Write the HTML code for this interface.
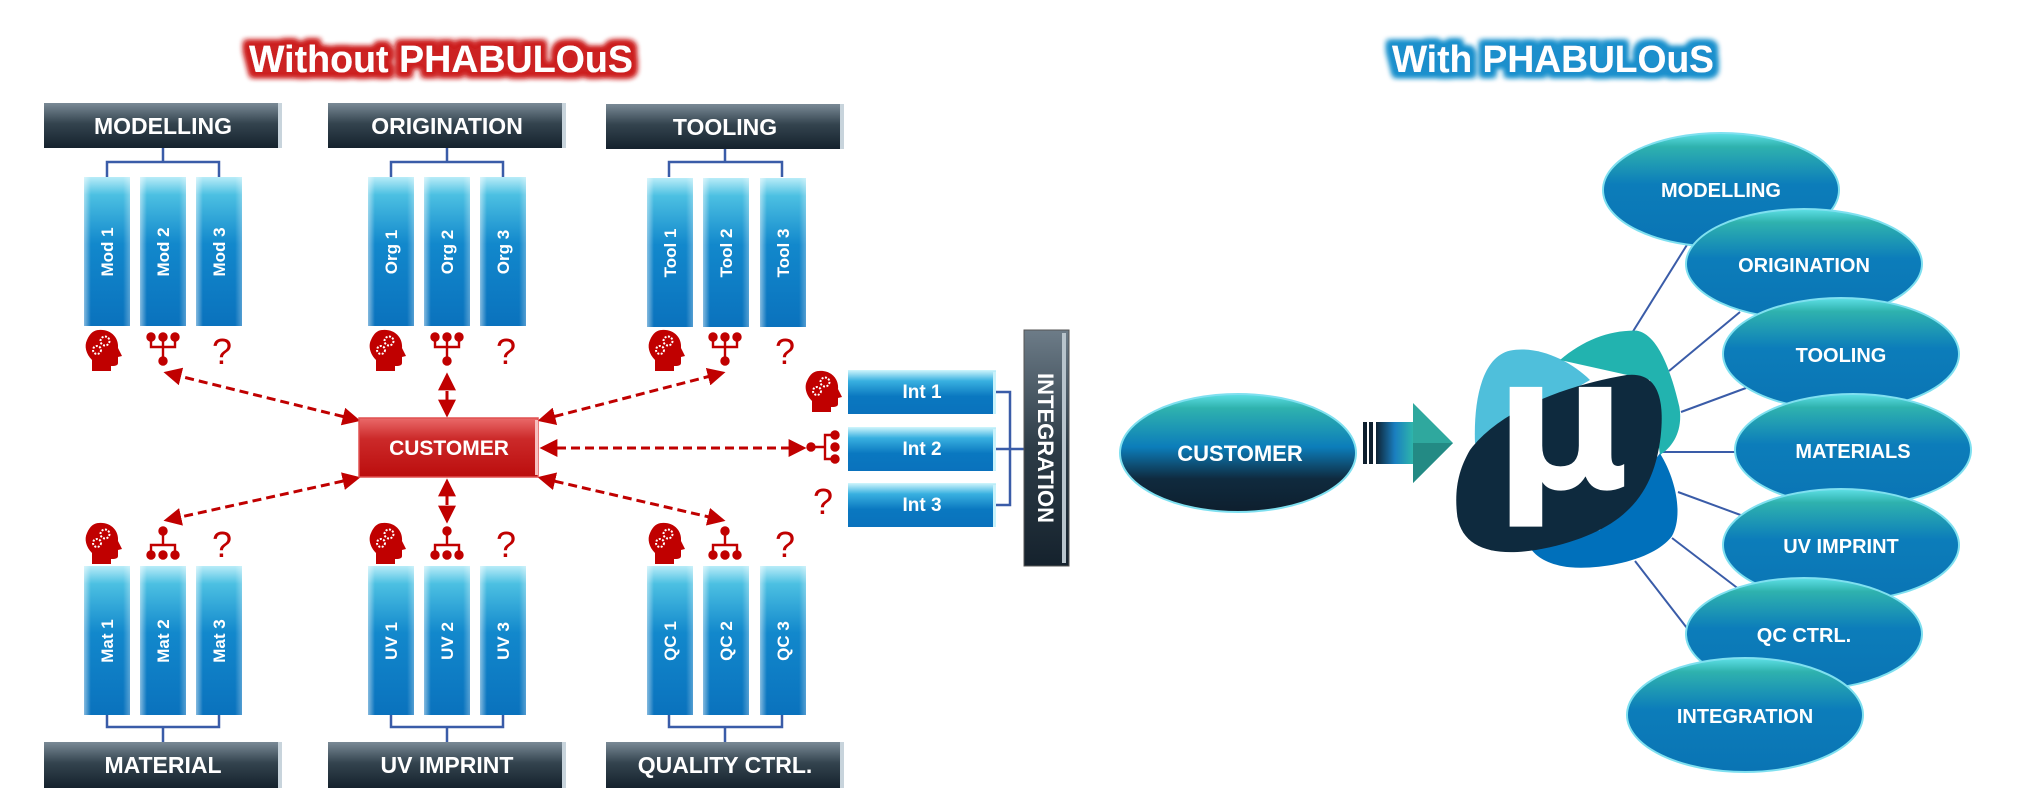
<!DOCTYPE html>
<html><head><meta charset="utf-8"><style>
html,body{margin:0;padding:0;background:#fff;width:2044px;height:788px;overflow:hidden}
svg{display:block}
text{font-family:"Liberation Sans",sans-serif;font-weight:bold}
</style></head><body>
<svg width="2044" height="788" viewBox="0 0 2044 788" xmlns="http://www.w3.org/2000/svg">
<defs>
<linearGradient id="col" x1="0" y1="0" x2="0" y2="1">
<stop offset="0" stop-color="#b8ecf8"/><stop offset="0.12" stop-color="#4cc0e2"/><stop offset="0.45" stop-color="#1288cc"/><stop offset="1" stop-color="#0a72bd"/></linearGradient>
<linearGradient id="colL" x1="0" y1="0" x2="1" y2="0">
<stop offset="0" stop-color="#ffffff" stop-opacity="0.5"/><stop offset="0.15" stop-color="#ffffff" stop-opacity="0"/><stop offset="0.85" stop-color="#ffffff" stop-opacity="0"/><stop offset="1" stop-color="#ffffff" stop-opacity="0.3"/></linearGradient>
<linearGradient id="intg" x1="0" y1="0" x2="0" y2="1">
<stop offset="0" stop-color="#d0f6fc"/><stop offset="0.25" stop-color="#38b0e0"/><stop offset="0.6" stop-color="#0a78c0"/><stop offset="1" stop-color="#0a72bd"/></linearGradient>
<linearGradient id="hdr" x1="0" y1="0" x2="0" y2="1">
<stop offset="0" stop-color="#7a8a96"/><stop offset="0.45" stop-color="#34444f"/><stop offset="1" stop-color="#15222d"/></linearGradient>
<linearGradient id="hdrV" x1="0" y1="0" x2="0" y2="1">
<stop offset="0" stop-color="#6d7c88"/><stop offset="0.5" stop-color="#2d3c47"/><stop offset="1" stop-color="#15222d"/></linearGradient>
<linearGradient id="red" x1="0" y1="0" x2="0" y2="1">
<stop offset="0" stop-color="#ea6a6a"/><stop offset="0.35" stop-color="#cc2a2a"/><stop offset="1" stop-color="#bb0d0d"/></linearGradient>
<linearGradient id="ell" x1="0" y1="0" x2="0" y2="1">
<stop offset="0" stop-color="#5ee0e6"/><stop offset="0.12" stop-color="#2fb2ae"/><stop offset="0.45" stop-color="#0c7dba"/><stop offset="1" stop-color="#0a74b4"/></linearGradient>
<linearGradient id="ellC" x1="0" y1="0" x2="0" y2="1">
<stop offset="0" stop-color="#5ee0e6"/><stop offset="0.12" stop-color="#2fb2ae"/><stop offset="0.45" stop-color="#0c7dba"/><stop offset="0.72" stop-color="#0f2a3e"/><stop offset="1" stop-color="#0e1f2e"/></linearGradient>
<linearGradient id="arr" x1="0" y1="0" x2="1" y2="0">
<stop offset="0" stop-color="#0e2233"/><stop offset="0.5" stop-color="#1a7fc0"/><stop offset="1" stop-color="#2fb8aa"/></linearGradient>
<marker id="ah" viewBox="0 0 10 10" refX="8" refY="5" markerWidth="6" markerHeight="6" orient="auto-start-reverse" markerUnits="strokeWidth">
<path d="M0,0 L10,5 L0,10 Z" fill="#c00000"/></marker>
<filter id="gr" x="-10%" y="-50%" width="120%" height="200%">
<feMorphology in="SourceAlpha" operator="dilate" radius="5" result="d"/>
<feGaussianBlur in="d" stdDeviation="3" result="b"/>
<feFlood flood-color="#cc2020"/><feComposite in2="b" operator="in" result="g"/>
<feMerge><feMergeNode in="g"/><feMergeNode in="g"/><feMergeNode in="SourceGraphic"/></feMerge></filter>
<filter id="gb" x="-10%" y="-50%" width="120%" height="200%">
<feMorphology in="SourceAlpha" operator="dilate" radius="5" result="d"/>
<feGaussianBlur in="d" stdDeviation="3" result="b"/>
<feFlood flood-color="#1b8fcc"/><feComposite in2="b" operator="in" result="g"/>
<feMerge><feMergeNode in="g"/><feMergeNode in="g"/><feMergeNode in="SourceGraphic"/></feMerge></filter>
<g id="head"><path d="M-4,-20 C8,-21 16,-12 15,-2 L19,6 L15,7 L15,13 C15,16 11,16 8,16 L8,21 L-11,21 L-11,10 C-17,4 -19,-4 -16,-10 C-13,-17 -9,-20 -4,-20 Z" fill="#c00000"/>
<circle cx="2" cy="-9" r="4.5" fill="none" stroke="#fff" stroke-width="2" stroke-dasharray="2 1.5"/><circle cx="-6" cy="0" r="4" fill="none" stroke="#fff" stroke-width="2" stroke-dasharray="2 1.5"/></g>
<g id="netD" fill="#c00000" stroke="#c00000" stroke-width="2.4"><circle cx="-12" cy="-12" r="3.5"/><circle cx="0" cy="-12" r="3.5"/><circle cx="12" cy="-12" r="3.5"/><path d="M-12,-12 V-2 H12 V-12 M0,-12 V10" fill="none"/><circle cx="0" cy="12" r="3.5"/></g>
<g id="netU" fill="#c00000" stroke="#c00000" stroke-width="2.4"><circle cx="0" cy="-12" r="3.5"/><path d="M0,-12 V2 M-12,12 V2 H12 V12" fill="none"/><circle cx="-12" cy="12" r="3.5"/><circle cx="0" cy="12" r="3.5"/><circle cx="12" cy="12" r="3.5"/></g>
</defs>

<text x="441" y="72" font-size="38" fill="#ffffff" text-anchor="middle" textLength="384" lengthAdjust="spacingAndGlyphs" filter="url(#gr)">Without PHABULOuS</text>
<text x="1553" y="72" font-size="38" fill="#ffffff" text-anchor="middle" textLength="322" lengthAdjust="spacingAndGlyphs" filter="url(#gb)">With PHABULOuS</text>

<g font-size="23" fill="#fff" text-anchor="middle">
<rect x="44" y="103" width="238" height="45" fill="url(#hdr)"/><rect x="278" y="103" width="4" height="45" fill="#c8d4dc"/><text x="163" y="134">MODELLING</text>
<rect x="328" y="103" width="238" height="45" fill="url(#hdr)"/><rect x="562" y="103" width="4" height="45" fill="#c8d4dc"/><text x="447" y="134">ORIGINATION</text>
<rect x="606" y="104" width="238" height="45" fill="url(#hdr)"/><rect x="840" y="104" width="4" height="45" fill="#c8d4dc"/><text x="725" y="135">TOOLING</text>
<rect x="44" y="742" width="238" height="46" fill="url(#hdr)"/><rect x="278" y="742" width="4" height="46" fill="#c8d4dc"/><text x="163" y="773">MATERIAL</text>
<rect x="328" y="742" width="238" height="46" fill="url(#hdr)"/><rect x="562" y="742" width="4" height="46" fill="#c8d4dc"/><text x="447" y="773">UV IMPRINT</text>
<rect x="606" y="742" width="238" height="46" fill="url(#hdr)"/><rect x="840" y="742" width="4" height="46" fill="#c8d4dc"/><text x="725" y="773">QUALITY CTRL.</text>
</g>

<g stroke="#3a5ca8" stroke-width="2.5" fill="none">
<path d="M163,148 V162 M107,177 V162 H219 V177"/>
<path d="M447,148 V162 M391,177 V162 H503 V177"/>
<path d="M725,149 V162 M669,177 V162 H782 V177"/>
<path d="M163,742 V727 M107,715 V727 H219 V715"/>
<path d="M447,742 V727 M391,715 V727 H503 V715"/>
<path d="M725,742 V727 M669,715 V727 H782 V715"/>
<path d="M996,392 H1010 V505 H996 M996,449 H1024"/>
</g>

<g fill="url(#col)">
<rect x="84" y="177" width="46" height="149"/><rect x="140" y="177" width="46" height="149"/><rect x="196" y="177" width="46" height="149"/>
<rect x="368" y="177" width="46" height="149"/><rect x="424" y="177" width="46" height="149"/><rect x="480" y="177" width="46" height="149"/>
<rect x="647" y="178" width="46" height="149"/><rect x="703" y="178" width="46" height="149"/><rect x="760" y="178" width="46" height="149"/>
<rect x="84" y="566" width="46" height="149"/><rect x="140" y="566" width="46" height="149"/><rect x="196" y="566" width="46" height="149"/>
<rect x="368" y="566" width="46" height="149"/><rect x="424" y="566" width="46" height="149"/><rect x="480" y="566" width="46" height="149"/>
<rect x="647" y="566" width="46" height="149"/><rect x="703" y="566" width="46" height="149"/><rect x="760" y="566" width="46" height="149"/>
</g>
<g fill="url(#colL)">
<rect x="84" y="177" width="46" height="149"/><rect x="140" y="177" width="46" height="149"/><rect x="196" y="177" width="46" height="149"/>
<rect x="368" y="177" width="46" height="149"/><rect x="424" y="177" width="46" height="149"/><rect x="480" y="177" width="46" height="149"/>
<rect x="647" y="178" width="46" height="149"/><rect x="703" y="178" width="46" height="149"/><rect x="760" y="178" width="46" height="149"/>
<rect x="84" y="566" width="46" height="149"/><rect x="140" y="566" width="46" height="149"/><rect x="196" y="566" width="46" height="149"/>
<rect x="368" y="566" width="46" height="149"/><rect x="424" y="566" width="46" height="149"/><rect x="480" y="566" width="46" height="149"/>
<rect x="647" y="566" width="46" height="149"/><rect x="703" y="566" width="46" height="149"/><rect x="760" y="566" width="46" height="149"/>
</g>
<g font-size="17" fill="#fff" text-anchor="middle">
<text transform="translate(113,252) rotate(-90)">Mod 1</text><text transform="translate(169,252) rotate(-90)">Mod 2</text><text transform="translate(225,252) rotate(-90)">Mod 3</text>
<text transform="translate(397,252) rotate(-90)">Org 1</text><text transform="translate(453,252) rotate(-90)">Org 2</text><text transform="translate(509,252) rotate(-90)">Org 3</text>
<text transform="translate(676,253) rotate(-90)">Tool 1</text><text transform="translate(732,253) rotate(-90)">Tool 2</text><text transform="translate(789,253) rotate(-90)">Tool 3</text>
<text transform="translate(113,641) rotate(-90)">Mat 1</text><text transform="translate(169,641) rotate(-90)">Mat 2</text><text transform="translate(225,641) rotate(-90)">Mat 3</text>
<text transform="translate(397,641) rotate(-90)">UV 1</text><text transform="translate(453,641) rotate(-90)">UV 2</text><text transform="translate(509,641) rotate(-90)">UV 3</text>
<text transform="translate(676,641) rotate(-90)">QC 1</text><text transform="translate(732,641) rotate(-90)">QC 2</text><text transform="translate(789,641) rotate(-90)">QC 3</text>
</g>

<use href="#head" x="103" y="350"/><use href="#netD" x="163" y="349"/>
<use href="#head" x="387" y="350"/><use href="#netD" x="447" y="349"/>
<use href="#head" x="666" y="350"/><use href="#netD" x="725" y="349"/>
<use href="#head" x="103" y="543"/><use href="#netU" x="163" y="543"/>
<use href="#head" x="387" y="543"/><use href="#netU" x="447" y="543"/>
<use href="#head" x="666" y="543"/><use href="#netU" x="725" y="543"/>
<use href="#head" x="823" y="391"/>
<g transform="translate(823,447) rotate(-90)"><use href="#netU"/></g>
<g font-size="36" fill="#c00000" text-anchor="middle">
<text x="222" y="364" style="font-weight:normal">?</text><text x="506" y="364" style="font-weight:normal">?</text><text x="785" y="364" style="font-weight:normal">?</text>
<text x="222" y="557" style="font-weight:normal">?</text><text x="506" y="557" style="font-weight:normal">?</text><text x="785" y="557" style="font-weight:normal">?</text>
<text x="823" y="514" style="font-weight:normal">?</text>
</g>

<g stroke="#c00000" stroke-width="3" stroke-dasharray="9 5" fill="none" marker-start="url(#ah)" marker-end="url(#ah)">
<line x1="357" y1="420" x2="167" y2="373"/>
<line x1="447" y1="414" x2="447" y2="376"/>
<line x1="541" y1="420" x2="722" y2="373"/>
<line x1="543" y1="448" x2="803" y2="448"/>
<line x1="357" y1="478" x2="167" y2="520"/>
<line x1="447" y1="482" x2="447" y2="520"/>
<line x1="541" y1="478" x2="722" y2="520"/>
</g>

<rect x="359" y="418" width="179" height="59" fill="url(#red)" stroke="#e05050" stroke-width="1.5"/>
<rect x="535" y="420" width="3" height="55" fill="#f6c0c0"/>
<text x="449" y="455" font-size="21" fill="#fff" text-anchor="middle">CUSTOMER</text>

<rect x="848" y="370" width="148" height="44" fill="url(#intg)"/><rect x="993" y="372" width="3" height="42" fill="#c8f2fb"/>
<rect x="848" y="427" width="148" height="44" fill="url(#intg)"/><rect x="993" y="429" width="3" height="42" fill="#c8f2fb"/>
<rect x="848" y="483" width="148" height="44" fill="url(#intg)"/><rect x="993" y="485" width="3" height="42" fill="#c8f2fb"/>
<g font-size="19" fill="#fff" text-anchor="middle">
<text x="922" y="398">Int 1</text><text x="922" y="455">Int 2</text><text x="922" y="511">Int 3</text>
</g>
<rect x="1024" y="330" width="45" height="236" fill="url(#hdrV)" stroke="#555" stroke-width="1"/>
<rect x="1062" y="333" width="4" height="230" fill="#b8c4cc"/>
<text transform="translate(1038,448) rotate(90)" font-size="22" fill="#fff" text-anchor="middle">INTEGRATION</text>

<g stroke="#3a5ca8" stroke-width="2" fill="none">
<line x1="1632" y1="333" x2="1690" y2="240"/>
<line x1="1669" y1="371" x2="1740" y2="312"/>
<line x1="1681" y1="412" x2="1746" y2="388"/>
<line x1="1663" y1="452" x2="1736" y2="452"/>
<line x1="1678" y1="492" x2="1746" y2="517"/>
<line x1="1672" y1="538" x2="1740" y2="590"/>
<line x1="1635" y1="561" x2="1690" y2="632"/>
</g>

<ellipse cx="1238" cy="453" rx="118" ry="59" fill="url(#ellC)" stroke="#7fe0f0" stroke-width="2"/>
<text x="1240" y="461" font-size="22" fill="#fff" text-anchor="middle">CUSTOMER</text>

<rect x="1363" y="422" width="4" height="42" fill="#0e1f2e"/><rect x="1369" y="422" width="4" height="42" fill="#0e1f2e"/>
<rect x="1376" y="422" width="38" height="42" fill="url(#arr)"/>
<polygon points="1413,403 1453,443 1413,483" fill="#2fa89e"/>
<polygon points="1413,443 1453,443 1413,483" fill="#238a84"/>

<g transform="translate(1450,330) scale(0.3333)">
<path d="M75,340 C70,200 100,80 180,62 C260,45 360,90 420,150 L300,220 Z" fill="#4fbfdb"/>
<path d="M330,90 C400,30 480,0 560,2 C620,12 660,110 688,230 C700,300 670,350 630,375 L600,150 Z" fill="#22b3af"/>
<path d="M630,370 C680,450 700,560 665,620 C610,690 460,720 360,712 C300,705 265,685 245,660 L450,600 Z" fill="#0070bb"/>
<path d="M60,360 C150,240 350,165 530,135 C620,125 645,200 632,320 C610,500 520,600 300,652 C150,685 40,665 22,560 C12,480 25,420 60,360 Z" fill="#0e2a3e"/>
</g>
<text x="1562" y="488" font-size="185" fill="#fff" text-anchor="middle" style="font-family:'DejaVu Sans',sans-serif;font-weight:bold">μ</text>

<g font-size="20" fill="#fff" text-anchor="middle">
<ellipse cx="1721" cy="190" rx="118" ry="57" fill="url(#ell)" stroke="#7fe0f0" stroke-width="2"/><text x="1721" y="197">MODELLING</text>
<ellipse cx="1804" cy="264" rx="118" ry="55" fill="url(#ell)" stroke="#7fe0f0" stroke-width="2"/><text x="1804" y="272">ORIGINATION</text>
<ellipse cx="1841" cy="354" rx="118" ry="56" fill="url(#ell)" stroke="#7fe0f0" stroke-width="2"/><text x="1841" y="362">TOOLING</text>
<ellipse cx="1853" cy="450" rx="118" ry="56" fill="url(#ell)" stroke="#7fe0f0" stroke-width="2"/><text x="1853" y="458">MATERIALS</text>
<ellipse cx="1841" cy="545" rx="118" ry="56" fill="url(#ell)" stroke="#7fe0f0" stroke-width="2"/><text x="1841" y="553">UV IMPRINT</text>
<ellipse cx="1804" cy="634" rx="118" ry="56" fill="url(#ell)" stroke="#7fe0f0" stroke-width="2"/><text x="1804" y="642">QC CTRL.</text>
<ellipse cx="1745" cy="715" rx="118" ry="57" fill="url(#ell)" stroke="#7fe0f0" stroke-width="2"/><text x="1745" y="723">INTEGRATION</text>
</g>
</svg>
</body></html>
